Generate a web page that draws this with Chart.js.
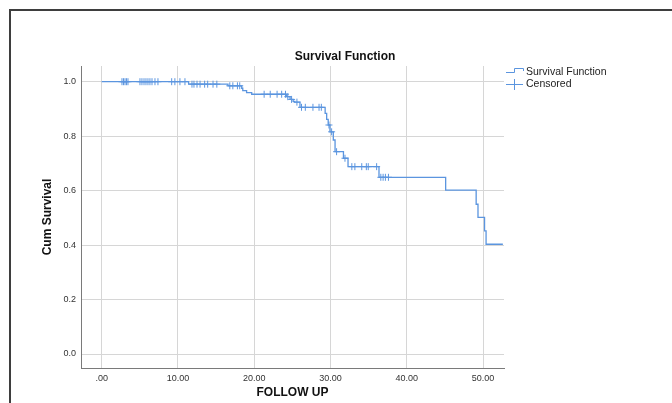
<!DOCTYPE html>
<html>
<head>
<meta charset="utf-8">
<script src="https://cdn.jsdelivr.net/npm/chart.js@4.4.1/dist/chart.umd.min.js"></script>
<style>
  html, body { margin:0; padding:0; background:#fff; overflow:hidden; }
  #wrap { position:relative; width:672px; height:403px; }
  #frame { position:absolute; left:9px; top:9px; width:700px; height:500px; border:2px solid #3e3e3e; pointer-events:none; }
  canvas { position:absolute; left:0; top:0; }
</style>
</head>
<body>
<div id="wrap">
  <canvas id="c" width="672" height="403"></canvas>
  <div id="frame"></div>
</div>
<script>
const chartTitle = "Survival Function";
const xTitle = "FOLLOW UP";
const yTitle = "Cum Survival";
const legendLabels = ["Survival Function", "Censored"];

const xTicks = [0, 10, 20, 30, 40, 50];
const yTicks = [0.0, 0.2, 0.4, 0.6, 0.8, 1.0];

const survTimes  = [0, 11.4, 16.56, 18.36, 18.5, 19.0, 19.67, 24.26, 24.7, 25.1, 25.3, 26.0, 29.3, 29.5, 29.7, 29.93, 30.37, 30.6, 31.7, 32.3, 36.36, 45.1, 49.1, 49.34, 50.2, 50.4, 52.6];
const survValues = [1.0, 0.991, 0.985, 0.976, 0.967, 0.960, 0.954, 0.945, 0.935, 0.928, 0.925, 0.906, 0.884, 0.862, 0.841, 0.816, 0.786, 0.743, 0.719, 0.688, 0.649, 0.602, 0.550, 0.502, 0.452, 0.403, 0.403];

const censorTimes  = [2.66, 2.86, 3.06, 3.25, 3.45, 5.02, 5.28, 5.55, 5.81, 6.07, 6.33, 6.6, 6.99, 7.38, 9.18, 9.6, 10.26, 10.92,
                      11.84, 12.1, 12.5, 12.9, 13.5, 13.9, 14.6, 15.1,
                      16.8, 17.2, 17.8, 18.1,
                      21.3, 22.1, 23.0, 23.6, 24.1,
                      24.4, 24.9, 25.6,
                      26.2, 26.7, 27.7, 28.5, 28.8,
                      29.8, 30.15, 30.8, 31.9,
                      32.8, 33.2, 34.1, 34.7, 34.95, 36.05,
                      36.6, 36.9, 37.2, 37.6];
const censorValues = [1.0, 1.0, 1.0, 1.0, 1.0, 1.0, 1.0, 1.0, 1.0, 1.0, 1.0, 1.0, 1.0, 1.0, 1.0, 1.0, 1.0, 1.0,
                      0.991, 0.991, 0.991, 0.991, 0.991, 0.991, 0.991, 0.991,
                      0.985, 0.985, 0.985, 0.985,
                      0.954, 0.954, 0.954, 0.954, 0.954,
                      0.945, 0.935, 0.925,
                      0.906, 0.906, 0.906, 0.906, 0.906,
                      0.841, 0.816, 0.743, 0.719,
                      0.688, 0.688, 0.688, 0.688, 0.688, 0.688,
                      0.649, 0.649, 0.649, 0.649];

const LINE_COLOR = '#5b95df';
const FONT = '"Liberation Sans", Arial, sans-serif';

const decor = {
  id: 'decor',
  afterDraw(chart) {
    const ctx = chart.ctx;
    const ca = chart.chartArea;
    ctx.save();
    ctx.fillStyle = '#111';
    ctx.textAlign = 'center';
    ctx.textBaseline = 'middle';
    ctx.font = 'bold 12px ' + FONT;
    ctx.fillText(chartTitle, 345, 57);
    ctx.font = 'bold 12px ' + FONT;
    ctx.fillText(xTitle, (ca.left + ca.right) / 2, 393);
    ctx.save();
    ctx.translate(48, (ca.top + ca.bottom) / 2);
    ctx.rotate(-Math.PI / 2);
    ctx.fillText(yTitle, 0, 0);
    ctx.restore();

    // legend
    ctx.strokeStyle = LINE_COLOR;
    ctx.lineWidth = 1;
    ctx.beginPath();
    ctx.moveTo(506, 72.5);
    ctx.lineTo(514.5, 72.5);
    ctx.lineTo(514.5, 68.5);
    ctx.lineTo(523.5, 68.5);
    ctx.lineTo(523.5, 71);
    ctx.stroke();
    ctx.beginPath();
    ctx.moveTo(506, 84.5);
    ctx.lineTo(523, 84.5);
    ctx.moveTo(514.5, 79);
    ctx.lineTo(514.5, 90);
    ctx.stroke();
    ctx.fillStyle = '#222';
    ctx.textAlign = 'left';
    ctx.font = '10.5px ' + FONT;
    ctx.fillText(legendLabels[0], 526, 72);
    ctx.fillText(legendLabels[1], 526, 84.5);
    ctx.restore();
  }
};

new Chart(document.getElementById('c'), {
  type: 'scatter',
  data: {
    datasets: [
      {
        label: legendLabels[0],
        data: survTimes.map((t, i) => ({ x: t, y: survValues[i] })),
        showLine: true,
        stepped: true,
        borderColor: LINE_COLOR,
        borderWidth: 1.3,
        pointRadius: 0,
        fill: false
      },
      {
        label: legendLabels[1],
        data: censorTimes.map((t, i) => ({ x: t, y: censorValues[i] })),
        showLine: false,
        pointStyle: 'cross',
        pointRadius: 3.5,
        borderColor: LINE_COLOR,
        borderWidth: 1,
        backgroundColor: LINE_COLOR
      }
    ]
  },
  options: {
    responsive: false,
    animation: false,
    events: [],
    layout: { padding: { left: 0, right: 168, top: 66, bottom: 0 } },
    plugins: { legend: { display: false }, title: { display: false }, tooltip: { enabled: false } },
    scales: {
      x: {
        type: 'linear',
        min: -2.71,
        max: 52.75,
        afterBuildTicks: (axis) => { axis.ticks = xTicks.map(v => ({ value: v })); },
        afterFit: (scale) => { scale.height = 35; },
        grid: { color: '#d6d6d6', lineWidth: 1, drawTicks: false },
        border: { color: '#7a7a7a', width: 1 },
        ticks: {
          padding: 5,
          color: '#333',
          font: { family: FONT, size: 9 },
          callback: (v) => { const s = Number(v).toFixed(2); return s.startsWith('0') ? s.slice(1) : s; }
        }
      },
      y: {
        type: 'linear',
        min: -0.0514,
        max: 1.0577,
        afterBuildTicks: (axis) => { axis.ticks = yTicks.map(v => ({ value: v })); },
        afterFit: (scale) => { scale.width = 81; },
        grid: { color: '#d6d6d6', lineWidth: 1, drawTicks: false },
        border: { color: '#7a7a7a', width: 1 },
        ticks: {
          padding: 5,
          color: '#333',
          font: { family: FONT, size: 9 },
          callback: (v) => Number(v).toFixed(1)
        }
      }
    }
  },
  plugins: [decor]
});
</script>
</body>
</html>
